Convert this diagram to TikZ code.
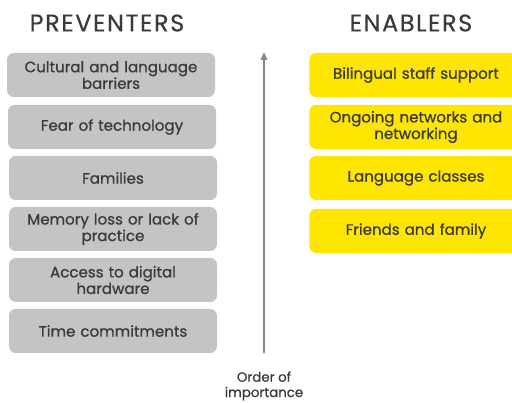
\documentclass[tikz,border=0pt]{standalone}
\usepackage{fontspec}
\setmainfont{Poppins}
\newfontfamily\medfont{Poppins}[FakeBold=0.8]
\newfontfamily\titlefont{Poppins}[FakeBold=0.4]
\usetikzlibrary{arrows.meta}
\definecolor{boxgray}{HTML}{C4C4C4}
\definecolor{eyyellow}{HTML}{FFE600}
\definecolor{txt}{HTML}{3A3A3A}
\definecolor{arrowgray}{HTML}{8A8A8A}
\begin{document}
\begin{tikzpicture}[x=0.75pt,y=-0.75pt,
  pbox/.style={fill=boxgray,rounded corners=5pt,minimum width=156pt,minimum height=33pt,
    text width=150pt,align=center,font=\medfont\fontsize{11.3}{12.4}\selectfont,text=txt,inner sep=0pt},
  ebox/.style={fill=eyyellow,rounded corners=5pt,minimum width=160pt,minimum height=33pt,
    text width=150pt,align=center,font=\medfont\fontsize{11.3}{12.4}\selectfont,text=txt,inner sep=0pt},
  title/.style={font=\titlefont\fontsize{18}{20}\selectfont,text=txt},
  note/.style={font=\medfont\fontsize{10}{11.5}\selectfont,text=txt,align=center}]
\useasboundingbox (0,0) rectangle (512,403);
\node[title] (tp) at (107,23) {P\kern1.2pt R\kern1.2pt E\kern1.2pt V\kern1.2pt E\kern1.2pt N\kern1.2pt T\kern1.2pt E\kern1.2pt R\kern1.2pt S};
\node[title] (te) at (411,23) {E\kern1.2pt N\kern1.2pt A\kern1.2pt B\kern1.2pt L\kern1.2pt E\kern1.2pt R\kern1.2pt S};
\node[pbox] (p1) at (111,75) {Cultural and language\\barriers};
\node[pbox] (p2) at (112,127) {Fear of technology};
\node[pbox] (p3) at (113,178) {Families};
\node[pbox] (p4) at (113,229) {Memory loss or lack of\\practice};
\node[pbox] (p5) at (113,280) {Access to digital\\hardware};
\node[pbox] (p6) at (113,331) {Time commitments};
\node[ebox] (e1) at (416,75) {Bilingual staff support};
\node[ebox] (e2) at (416,127) {Ongoing networks and\\networking};
\node[ebox] (e3) at (416,178) {Language classes};
\node[ebox] (e4) at (416,231) {Friends and family};
\coordinate (abot) at (264,353);
\coordinate (atop) at (264,52);
\draw[arrowgray,line width=1.2pt,-{Triangle[length=6pt,width=5pt]}] (abot) -- (atop);
\node[note] (ord) at (264,386) {Order of\\importance};
\end{tikzpicture}
\end{document}
